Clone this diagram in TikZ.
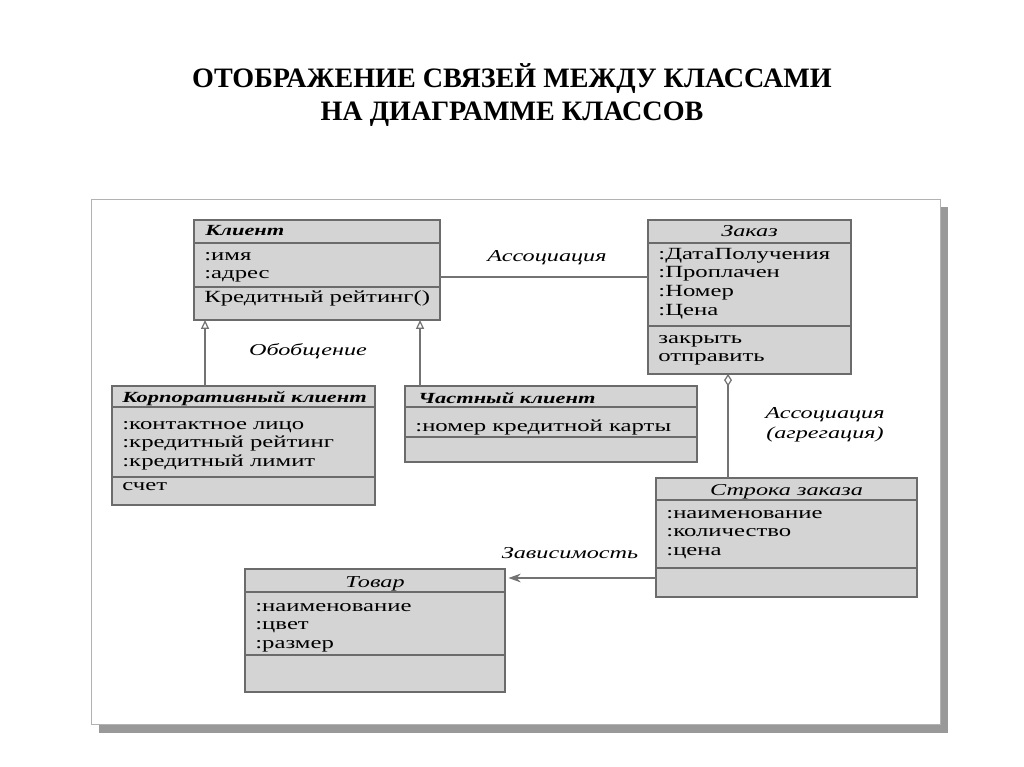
\documentclass[tikz,border=0pt]{standalone}
\usepackage{fontspec}
\setmainfont{Liberation Serif}
\newfontfamily\umlfont[FakeStretch=1.45]{Liberation Serif}
\usetikzlibrary{calc}
\usetikzlibrary{arrows.meta}

\begin{document}
\begin{tikzpicture}[x=0.02cm, y=-0.02cm]
		\tikzstyle{cls} = [rectangle, draw=black!58, fill=black!17, line width=0.7pt, inner sep=0pt, outer sep=0pt]
		\tikzstyle{sep} = [draw=black!58, line width=0.7pt]
		\tikzstyle{head} = [inner sep=0pt, font=\umlfont\fontsize{9.5}{10.8}\selectfont\itshape]
		\tikzstyle{headb} = [inner sep=0pt, font=\umlfont\fontsize{8.8}{10.8}\selectfont\bfseries\itshape]
		\tikzstyle{attrs} = [inner sep=0pt, anchor=base west, font=\umlfont\fontsize{9.7}{10.8}\selectfont]
		\tikzstyle{rel} = [draw=black!55, line width=0.7pt]
		\tikzstyle{lbl} = [inner sep=0pt, align=center, font=\umlfont\fontsize{9.5}{11.5}\selectfont\itshape]
		
		\useasboundingbox (0,0) rectangle (1024,767);
		
		\node [font=\bfseries\fontsize{16}{18.7}\selectfont, align=center, inner sep=0pt] (title) at (512,95) {ОТОБРАЖЕНИЕ СВЯЗЕЙ МЕЖДУ КЛАССАМИ\\НА ДИАГРАММЕ КЛАССОВ};
		
		\fill [black!40] (99,207) rectangle (948,733);
		\draw [black!30, fill=white] (91,199) rectangle (940,724);
		
		% classes
		\node [cls, minimum width=4.92cm, minimum height=2cm] (klient) at (317,270) {};
		\draw [sep] ($(klient.north west)+(0,23)$) -- ($(klient.north east)+(0,23)$);
		\draw [sep] ($(klient.north west)+(0,67)$) -- ($(klient.north east)+(0,67)$);
		\node [headb, anchor=base west] (klientT) at ($(klient.north west)+(11,15)$) {Клиент};
		\node [attrs] (klientA) at ($(klient.north west)+(10,40)$) {\begin{tabular}[t]{@{}l@{}}:имя\\:адрес\end{tabular}};
		\node [attrs] (klientO) at ($(klient.north west)+(10,82)$) {Кредитный рейтинг()};
		
		\node [cls, minimum width=4.06cm, minimum height=3.08cm] (zakaz) at (749.5,297) {};
		\draw [sep] ($(zakaz.north west)+(0,23)$) -- ($(zakaz.north east)+(0,23)$);
		\draw [sep] ($(zakaz.north west)+(0,106)$) -- ($(zakaz.north east)+(0,106)$);
		\node [head, anchor=base] (zakazT) at ($(zakaz.north)+(0,16)$) {Заказ};
		\node [attrs] (zakazA) at ($(zakaz.north west)+(10,39)$) {\begin{tabular}[t]{@{}l@{}}:ДатаПолучения\\:Проплачен\\:Номер\\:Цена\end{tabular}};
		\node [attrs] (zakazO) at ($(zakaz.north west)+(10,123)$) {\begin{tabular}[t]{@{}l@{}}закрыть\\отправить\end{tabular}};
		
		\node [cls, minimum width=5.26cm, minimum height=2.38cm] (korp) at (243.5,445.5) {};
		\draw [sep] ($(korp.north west)+(0,21)$) -- ($(korp.north east)+(0,21)$);
		\draw [sep] ($(korp.north west)+(0,91)$) -- ($(korp.north east)+(0,91)$);
		\node [headb, anchor=base west] (korpT) at ($(korp.north west)+(10,16)$) {Корпоративный клиент};
		\node [attrs] (korpA) at ($(korp.north west)+(10,43)$) {\begin{tabular}[t]{@{}l@{}}:контактное лицо\\:кредитный рейтинг\\:кредитный лимит\end{tabular}};
		\node [attrs] (korpO) at ($(korp.north west)+(10,104)$) {счет};
		
		\node [cls, minimum width=5.84cm, minimum height=1.52cm] (chastny) at (551,424) {};
		\draw [sep] ($(chastny.north west)+(0,21)$) -- ($(chastny.north east)+(0,21)$);
		\draw [sep] ($(chastny.north west)+(0,51)$) -- ($(chastny.north east)+(0,51)$);
		\node [headb, anchor=base west] (chastnyT) at ($(chastny.north west)+(13,17)$) {Частный клиент};
		\node [attrs] (chastnyA) at ($(chastny.north west)+(10,45)$) {:номер кредитной карты};
		
		\node [cls, minimum width=5.22cm, minimum height=2.38cm] (stroka) at (786.5,537.5) {};
		\draw [sep] ($(stroka.north west)+(0,22)$) -- ($(stroka.north east)+(0,22)$);
		\draw [sep] ($(stroka.north west)+(0,90)$) -- ($(stroka.north east)+(0,90)$);
		\node [head, anchor=base] (strokaT) at ($(stroka.north)+(0,17)$) {Строка заказа};
		\node [attrs] (strokaA) at ($(stroka.north west)+(10,40)$) {\begin{tabular}[t]{@{}l@{}}:наименование\\:количество\\:цена\end{tabular}};
		
		\node [cls, minimum width=5.2cm, minimum height=2.46cm] (tovar) at (375,630.5) {};
		\draw [sep] ($(tovar.north west)+(0,23)$) -- ($(tovar.north east)+(0,23)$);
		\draw [sep] ($(tovar.north west)+(0,86)$) -- ($(tovar.north east)+(0,86)$);
		\node [head, anchor=base] (tovarT) at ($(tovar.north)+(0,18)$) {Товар};
		\node [attrs] (tovarA) at ($(tovar.north west)+(10,42)$) {\begin{tabular}[t]{@{}l@{}}:наименование\\:цвет\\:размер\end{tabular}};
		
		% relations
		\coordinate (a1) at ($(klient.east)+(0,7)$);
		\draw [rel] (a1) -- (a1 -| zakaz.west);
		\node [lbl] (assoc) at (547,258) {Ассоциация};
		
		\coordinate (g1) at ($(korp.north west)+(93,0)$);
		\coordinate (g2) at ($(chastny.north west)+(15,0)$);
		\draw [rel, -{Triangle[open, length=5pt, width=4.5pt]}] (g1) -- (g1 |- klient.south);
		\draw [rel, -{Triangle[open, length=5pt, width=4.5pt]}] (g2) -- (g2 |- klient.south);
		\node [lbl] (gen) at (308,351) {Обобщение};
		
		\coordinate (s1) at ($(stroka.north west)+(72,0)$);
		\draw [rel, -{Diamond[open, length=7pt, width=4.5pt]}] (s1) -- (s1 |- zakaz.south);
		\node [lbl] (aggr) at (825,425) {Ассоциация\\(агрегация)};
		
		\coordinate (d1) at ($(stroka.west)+(0,40.5)$);
		\draw [rel, -{Stealth[length=7pt, width=5pt]}, shorten >=2pt] (d1) -- (d1 -| tovar.east);
		\node [lbl] (dep) at (570,553) {Зависимость};
	\end{tikzpicture}
\end{document}
